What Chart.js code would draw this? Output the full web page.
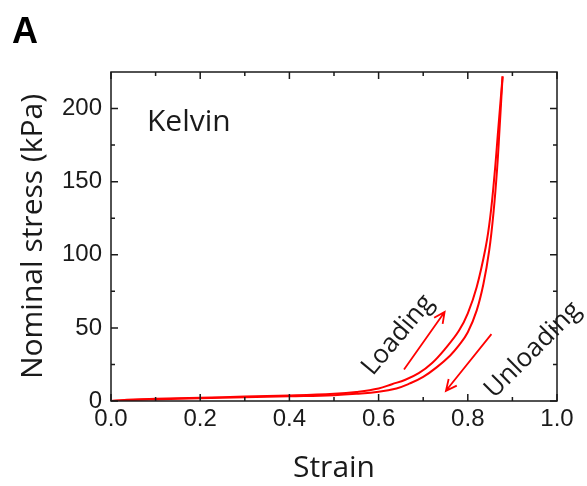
<!DOCTYPE html>
<html>
<head>
<meta charset="utf-8">
<script src="https://cdn.jsdelivr.net/npm/chart.js@4"></script>
<style>
  html, body { margin: 0; padding: 0; background: #fff; }
  #chart { display: block; }
</style>
</head>
<body>
<canvas id="chart" width="587" height="486"></canvas>
<script>
// Loading branch (strain, nominal stress in kPa)
const strainLoading = [0, 0.05, 0.1, 0.2, 0.3, 0.4, 0.5, 0.55, 0.6, 0.63, 0.66, 0.69, 0.72, 0.75, 0.78, 0.8, 0.82, 0.84, 0.85, 0.86, 0.868, 0.878];
const stressLoading = [0, 1.0, 1.5, 2.3, 3.0, 3.8, 5.0, 6.2, 8.5, 11.5, 14.5, 19, 26, 36, 48, 60, 78, 105, 125, 155, 185, 222];

// Unloading branch
const strainUnloading = [0, 0.05, 0.1, 0.2, 0.3, 0.4, 0.5, 0.55, 0.6, 0.64, 0.67, 0.7, 0.73, 0.76, 0.78, 0.8, 0.82, 0.835, 0.848, 0.858, 0.866, 0.871, 0.878];
const stressUnloading = [0, 0.7, 1.1, 1.8, 2.5, 3.2, 4.0, 4.9, 6.3, 8.6, 12.0, 16.5, 23, 31, 38, 47, 62, 80, 103, 130, 160, 185, 222];

// Axis ticks
const xTicks = [0, 0.2, 0.4, 0.6, 0.8, 1.0];
const xMinorTicks = [0.1, 0.3, 0.5, 0.7, 0.9];
const yTicks = [0, 50, 100, 150, 200];
const yMinorTicks = [25, 75, 125, 175];

// Arrows in data units: [strain, stress]
const loadingArrow = { from: [0.657, 21.6], to: [0.748, 60.9] };
const unloadingArrow = { from: [0.853, 45.7], to: [0.751, 7.0] };

const RED = '#ff0000';
const INK = '#1a1a1a';
const TEXT_FONT = '"Open Sans", "DejaVu Sans", sans-serif';

function toPoints(xs, ys) {
    return xs.map((x, i) => ({ x: x, y: ys[i] }));
}

function drawArrow(ctx, x, y, arrow) {
    const x0 = x.getPixelForValue(arrow.from[0]);
    const y0 = y.getPixelForValue(arrow.from[1]);
    const x1 = x.getPixelForValue(arrow.to[0]);
    const y1 = y.getPixelForValue(arrow.to[1]);
    const ang = Math.atan2(y1 - y0, x1 - x0);
    const head = 12;
    ctx.beginPath();
    ctx.moveTo(x0, y0);
    ctx.lineTo(x1, y1);
    ctx.moveTo(x1 - head * Math.cos(ang - 0.45), y1 - head * Math.sin(ang - 0.45));
    ctx.lineTo(x1, y1);
    ctx.lineTo(x1 - head * Math.cos(ang + 0.45), y1 - head * Math.sin(ang + 0.45));
    ctx.stroke();
}

function rotatedText(ctx, text, cx, cy, deg) {
    ctx.save();
    ctx.translate(cx, cy);
    ctx.rotate(deg * Math.PI / 180);
    ctx.textAlign = 'center';
    ctx.textBaseline = 'middle';
    ctx.fillText(text, 0, 0);
    ctx.restore();
}

// Box frame with inward ticks on all four sides, plus labels and arrows
const framePlugin = {
    id: 'frame',
    afterDatasetsDraw(chart) {
        const { ctx, chartArea: a, scales: { x, y } } = chart;
        ctx.save();

        ctx.strokeStyle = RED;
        ctx.lineWidth = 1.8;
        drawArrow(ctx, x, y, loadingArrow);
        drawArrow(ctx, x, y, unloadingArrow);

        ctx.fillStyle = INK;
        ctx.font = '26px ' + TEXT_FONT;
        rotatedText(ctx, 'Loading', 398, 335, -50);
        rotatedText(ctx, 'Unloading', 533, 350, -45);

        ctx.font = '30px ' + TEXT_FONT;
        ctx.textAlign = 'left';
        ctx.textBaseline = 'alphabetic';
        ctx.fillText('Kelvin', 147, 131);

        ctx.strokeStyle = INK;
        ctx.lineWidth = 1.5;
        ctx.strokeRect(a.left, a.top, a.right - a.left, a.bottom - a.top);

        ctx.beginPath();
        const xTick = (v, len) => {
            const px = x.getPixelForValue(v);
            ctx.moveTo(px, a.bottom); ctx.lineTo(px, a.bottom - len);
            ctx.moveTo(px, a.top); ctx.lineTo(px, a.top + len);
        };
        const yTick = (v, len) => {
            const py = y.getPixelForValue(v);
            ctx.moveTo(a.left, py); ctx.lineTo(a.left + len, py);
            ctx.moveTo(a.right, py); ctx.lineTo(a.right - len, py);
        };
        xTicks.forEach(v => xTick(v, 7));
        xMinorTicks.forEach(v => xTick(v, 4));
        yTicks.forEach(v => yTick(v, 7));
        yMinorTicks.forEach(v => yTick(v, 4));
        ctx.stroke();

        // Axis titles and panel letter
        ctx.fillStyle = INK;
        ctx.font = '30px ' + TEXT_FONT;
        ctx.textAlign = 'center';
        ctx.textBaseline = 'alphabetic';
        ctx.fillText('Strain', (a.left + a.right) / 2, 477);
        ctx.save();
        ctx.translate(42, (a.top + a.bottom) / 2);
        ctx.rotate(-Math.PI / 2);
        ctx.fillText('Nominal stress (kPa)', 0, 0);
        ctx.restore();

        ctx.font = 'bold 36px "Liberation Sans", Arial, sans-serif';
        ctx.textAlign = 'left';
        ctx.fillStyle = '#000';
        ctx.fillText('A', 12, 43);

        ctx.restore();
    }
};

const data = {
    datasets: [
        {
            label: 'Loading',
            data: toPoints(strainLoading, stressLoading),
            borderColor: RED,
            borderWidth: 2,
            pointRadius: 0,
            showLine: true,
            tension: 0.4
        },
        {
            label: 'Unloading',
            data: toPoints(strainUnloading, stressUnloading),
            borderColor: RED,
            borderWidth: 2,
            pointRadius: 0,
            showLine: true,
            tension: 0.4
        }
    ]
};

const tickFont = { family: '"Liberation Sans", Arial, sans-serif', size: 24 };

const config = {
    type: 'scatter',
    data: data,
    options: {
        responsive: false,
        animation: false,
        devicePixelRatio: 1,
        layout: { padding: { top: 72, right: 30, left: 0, bottom: 0 } },
        plugins: {
            legend: { display: false },
            tooltip: { enabled: false }
        },
        scales: {
            x: {
                type: 'linear',
                min: 0,
                max: 1,
                afterBuildTicks: s => { s.ticks = xTicks.map(v => ({ value: v })); },
                afterFit: s => { s.height = 85; },
                grid: { display: false, drawTicks: false },
                border: { display: false },
                ticks: {
                    font: tickFont,
                    color: INK,
                    padding: 4,
                    maxRotation: 0,
                    callback: v => v.toFixed(1)
                }
            },
            y: {
                type: 'linear',
                min: 0,
                max: 225,
                afterBuildTicks: s => { s.ticks = yTicks.map(v => ({ value: v })); },
                afterFit: s => { s.width = 111; },
                grid: { display: false, drawTicks: false },
                border: { display: false },
                ticks: {
                    font: tickFont,
                    color: INK,
                    padding: 9
                }
            }
        }
    },
    plugins: [framePlugin]
};

const kelvinChart = new Chart(
    document.getElementById('chart'),
    config
);
</script>
</body>
</html>
